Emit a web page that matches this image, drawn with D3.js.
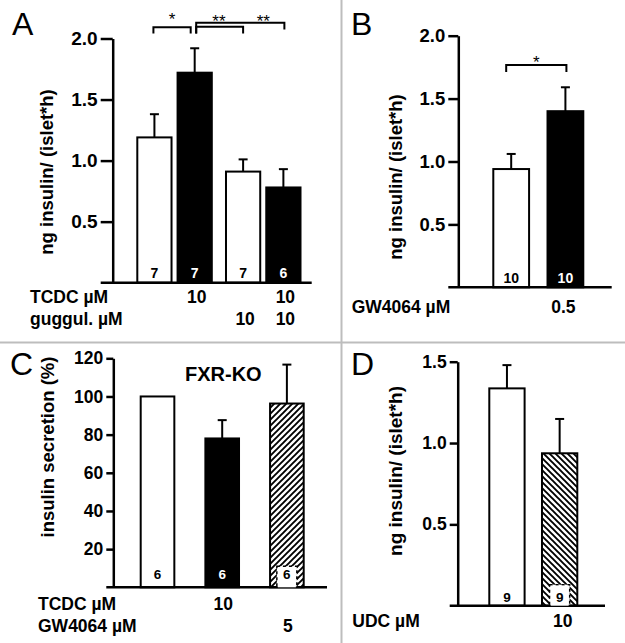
<!DOCTYPE html>
<html>
<head>
<meta charset="utf-8">
<script src="https://cdn.jsdelivr.net/npm/d3@7"></script>
<style>
  html, body { margin: 0; padding: 0; background: #fff; }
  svg { display: block; }
  text { font-family: "Liberation Sans", Arial, Helvetica, sans-serif; }
</style>
</head>
<body>
<script>
// ---------------- DATA ----------------
// Panel A
const aCategories = ["Control", "TCDC", "guggul.", "TCDC + guggul."];
const aMeans = [1.19, 1.72, 0.91, 0.78];
const aSEM = [0.19, 0.20, 0.10, 0.15];
const aN = [7, 7, 7, 6];
const aTCDC = ["", "10", "", "10"];
const aGuggul = ["", "", "10", "10"];
const aTicks = [0.5, 1.0, 1.5, 2.0];
const aSig = [[0, 1, "*"], [1, 2, "**"], [1, 3, "**"]];

// Panel B
const bCategories = ["Control", "GW4064"];
const bMeans = [0.94, 1.40];
const bSEM = [0.12, 0.19];
const bN = [10, 10];
const bGW = ["", "0.5"];
const bTicks = [0.5, 1.0, 1.5, 2.0];
const bSig = [[0, 1, "*"]];

// Panel C (FXR-KO)
const cCategories = ["Control", "TCDC", "GW4064"];
const cMeans = [100, 78, 96.3];
const cSEM = [0, 9.6, 20.4];
const cN = [6, 6, 6];
const cTCDC = ["", "10", ""];
const cGW = ["", "", "5"];
const cTicks = [20, 40, 60, 80, 100, 120];

// Panel D
const dCategories = ["Control", "UDC"];
const dMeans = [1.336, 0.937];
const dSEM = [0.143, 0.211];
const dN = [9, 9];
const dUDC = ["", "10"];
const dTicks = [0.5, 1.0, 1.5];

// ---------------- DRAWING ----------------
const W = 625, H = 643;
const svg = d3.select("body").append("svg").attr("width", W).attr("height", H);

const defs = svg.append("defs");
function hatch(id, dir) {
  const p = defs.append("pattern").attr("id", id)
    .attr("patternUnits", "userSpaceOnUse").attr("width", 6).attr("height", 6);
  p.append("rect").attr("width", 6).attr("height", 6).attr("fill", "#fff");
  const d = dir === "up"
    ? "M-1,1 l2,-2 M0,6 l6,-6 M5,7 l2,-2"
    : "M-1,5 l2,2 M0,0 l6,6 M5,-1 l2,2";
  p.append("path").attr("d", d).attr("stroke", "#000").attr("stroke-width", 1.9);
}
hatch("hatchUp", "up");
hatch("hatchDown", "down");

const fills = { open: "#fff", solid: "#000", hatchUp: "url(#hatchUp)", hatchDown: "url(#hatchDown)" };

// separators
svg.append("line").attr("x1", 0).attr("x2", W).attr("y1", 342.5).attr("y2", 342.5)
  .attr("stroke", "#bdbdbd").attr("stroke-width", 2);
svg.append("line").attr("x1", 341.5).attr("x2", 341.5).attr("y1", 0).attr("y2", H)
  .attr("stroke", "#bdbdbd").attr("stroke-width", 2);

function drawPanel(p) {
  const g = svg.append("g");
  const y = d3.scaleLinear().domain(p.domain).range([p.y0, p.y1]);
  const pos = p.position();

  // axis
  const axis = d3.axisLeft(y).tickValues(p.ticks).tickSize(p.tickSize).tickSizeOuter(0)
    .tickPadding(3).tickFormat(p.format);
  const ax = g.append("g").attr("transform", `translate(${p.axisX},0)`).call(axis);
  ax.select(".domain").attr("stroke", "#000").attr("stroke-width", 2.5);
  ax.selectAll(".tick line").attr("stroke", "#000").attr("stroke-width", 2.5);
  ax.selectAll(".tick text").attr("font-family", '"Liberation Sans", Arial, sans-serif')
    .attr("font-weight", "bold").attr("font-size", p.tickFont).attr("fill", "#000");

  // bars
  g.selectAll("rect.bar").data(p.means).join("rect").attr("class", "bar")
    .attr("x", (d, i) => pos(i).x).attr("width", (d, i) => pos(i).w)
    .attr("y", d => y(d)).attr("height", d => y(0) - y(d))
    .attr("fill", (d, i) => fills[p.kinds[i]])
    .attr("stroke", "#000").attr("stroke-width", 2);

  // error bars
  p.means.forEach((m, i) => {
    if (!p.sem[i]) return;
    const cx = pos(i).x + pos(i).w / 2;
    g.append("line").attr("x1", cx).attr("x2", cx).attr("y1", y(m)).attr("y2", y(m + p.sem[i]))
      .attr("stroke", "#000").attr("stroke-width", 2);
    g.append("line").attr("x1", cx - 4.5).attr("x2", cx + 4.5)
      .attr("y1", y(m + p.sem[i])).attr("y2", y(m + p.sem[i]))
      .attr("stroke", "#000").attr("stroke-width", 2);
  });

  // x axis baseline
  g.append("line").attr("x1", p.axisX - p.tickSize).attr("x2", p.xEnd)
    .attr("y1", y(0)).attr("y2", y(0)).attr("stroke", "#000").attr("stroke-width", 2.5);

  // n labels
  p.n.forEach((n, i) => {
    const cx = pos(i).x + pos(i).w / 2;
    const kind = p.kinds[i];
    if (kind.startsWith("hatch")) {
      g.append("rect").attr("x", cx - 10).attr("y", y(0) - 21).attr("width", 20).attr("height", 20)
        .attr("fill", "#fff").attr("stroke", "#000").attr("stroke-width", 1.6)
        .attr("stroke-dasharray", "3,3");
      g.append("rect").attr("x", cx - 9).attr("y", y(0) - 20).attr("width", 18).attr("height", 20)
        .attr("fill", "#fff");
    }
    g.append("text").attr("x", cx).attr("y", y(0) - p.nOffset)
      .attr("text-anchor", "middle").attr("font-weight", "bold").attr("font-size", p.nFont)
      .attr("fill", kind === "solid" ? "#fff" : "#000").text(n);
  });

  // y title
  g.append("text").attr("transform", `translate(${p.titleX},${p.titleY}) rotate(-90)`)
    .attr("text-anchor", "middle").attr("dominant-baseline", "central")
    .attr("font-weight", "bold").attr("font-size", p.titleFont).text(p.title);

  // panel letter
  g.append("text").attr("x", p.letterX).attr("y", p.letterY).attr("font-size", 32).text(p.letter);

  // condition rows
  p.rows.forEach(r => {
    g.append("text").attr("x", p.rowX).attr("y", r.y).attr("font-weight", "bold")
      .attr("font-size", p.rowFont).text(r.label);
    r.values.forEach((v, i) => {
      if (!v) return;
      const cx = pos(i).x + pos(i).w / 2 + (p.rowShift || 0);
      g.append("text").attr("x", cx).attr("y", r.y).attr("text-anchor", "middle")
        .attr("font-weight", "bold").attr("font-size", p.rowFont).text(v);
    });
  });

  // significance brackets
  (p.sig || []).forEach((s, k) => {
    const b = p.brackets[k];
    const cx = i => pos(i).x + pos(i).w / 2;
    const x1 = cx(s[0]) + b.dx1;
    const x2 = cx(s[1]) + b.dx2;
    g.append("path").attr("d", `M${x1},${b.yb1} V${b.yt} H${x2} V${b.yb2}`)
      .attr("fill", "none").attr("stroke", "#000").attr("stroke-width", 2);
    const sx = b.starBetween ? (cx(b.starBetween[0]) + cx(b.starBetween[1])) / 2 : (x1 + x2) / 2;
    g.append("text").attr("x", sx).attr("y", b.starY)
      .attr("text-anchor", "middle").attr("font-size", 17).text(s[2]);
  });
  return g;
}

// Panel A
(function () {
  const groups = ["without guggul.", "with guggul."];
  const subs = ["vehicle", "TCDC"];
  const gx = d3.scaleBand().domain(groups).range([137.3, 300.5]).paddingInner(0.16);
  const sx = d3.scaleBand().domain(subs).range([0, gx.bandwidth()]).paddingInner(0.15);
  const position = () => i => ({
    x: gx(groups[aGuggul[i] ? 1 : 0]) + sx(subs[aTCDC[i] ? 1 : 0]),
    w: sx.bandwidth()
  });
  drawPanel({
    domain: [0, 2], y0: 282.7, y1: 38.5, ticks: aTicks, format: d3.format(".1f"),
    tickSize: 12, tickFont: 19, axisX: 112.7, xEnd: 311.7,
    means: aMeans, sem: aSEM, n: aN, kinds: ["open", "solid", "open", "solid"],
    nOffset: 5, nFont: 14,
    position, title: "ng insulin/ (islet*h)", titleX: 46.7, titleY: 172, titleFont: 18.5,
    letter: "A", letterX: 12, letterY: 35,
    rowX: 30, rowFont: 17.5, rowShift: 2,
    rows: [{ label: "TCDC µM", y: 303 }, { label: "guggul. µM", y: 325 }].map((r, k) => ({ ...r, values: [aTCDC, aGuggul][k] })),
    sig: aSig,
    brackets: [
      { dx1: -1, dx2: -4, yt: 27.3, yb1: 33.5, yb2: 33.5, starY: 25 },
      { dx1: 1.5, dx2: 0, yt: 26.7, yb1: 33.5, yb2: 33.5, starY: 27, starBetween: [1, 2] },
      { dx1: 1.5, dx2: 1, yt: 22.7, yb1: 33.5, yb2: 29.5, starY: 27, starBetween: [2, 3] }
    ]
  });
})();

// Panel B
(function () {
  const x = d3.scaleBand().domain(bCategories).range([493.3, 583.3]).paddingInner(0.34);
  const position = () => i => ({ x: x(bCategories[i]), w: x.bandwidth() });
  drawPanel({
    domain: [0, 2], y0: 287.3, y1: 35.7, ticks: bTicks, format: d3.format(".1f"),
    tickSize: 10, tickFont: 18.5, axisX: 458.3, xEnd: 611.7,
    means: bMeans, sem: bSEM, n: bN, kinds: ["open", "solid"],
    nOffset: 4, nFont: 14,
    position, title: "ng insulin/ (islet*h)", titleX: 395, titleY: 177, titleFont: 18.5,
    letter: "B", letterX: 351, letterY: 35,
    rowX: 351.7, rowFont: 17.5, rowShift: -2,
    rows: [{ label: "GW4064 µM", y: 313.3, values: bGW }],
    sig: bSig,
    brackets: [{ dx1: -5, dx2: 1, yt: 65, yb1: 72, yb2: 72, starY: 68 }]
  });
})();

// Panel C
(function () {
  const x = d3.scaleBand().domain(cCategories).range([140.7, 303.7]).paddingInner(0.48);
  const position = () => i => ({ x: x(cCategories[i]), w: x.bandwidth() });
  const g = drawPanel({
    domain: [0, 120], y0: 587.3, y1: 358.3, ticks: cTicks, format: d3.format("d"),
    tickSize: 7, tickFont: 17.5, axisX: 113.3, xEnd: 327,
    means: cMeans, sem: cSEM, n: cN, kinds: ["open", "solid", "hatchUp"],
    nOffset: 8, nFont: 13.5,
    position, title: "insulin secretion (%)", titleX: 47, titleY: 447, titleFont: 18.5,
    letter: "C", letterX: 10, letterY: 375,
    rowX: 38, rowFont: 17.5, rowShift: 1,
    rows: [{ label: "TCDC µM", y: 610, values: cTCDC }, { label: "GW4064 µM", y: 631.7, values: cGW }]
  });
  g.append("text").attr("x", 185).attr("y", 381).attr("font-weight", "bold")
    .attr("font-size", 20).text("FXR-KO");
})();

// Panel D
(function () {
  const x = d3.scaleBand().domain(dCategories).range([489.3, 577.3]).paddingInner(0.33);
  const position = () => i => ({ x: x(dCategories[i]), w: x.bandwidth() });
  drawPanel({
    domain: [0, 1.5], y0: 605.7, y1: 361.7, ticks: dTicks, format: d3.format(".1f"),
    tickSize: 8, tickFont: 17.5, axisX: 457.7, xEnd: 605,
    means: dMeans, sem: dSEM, n: dN, kinds: ["open", "hatchDown"],
    nOffset: 4, nFont: 13.5,
    position, title: "ng insulin/ (islet*h)", titleX: 395, titleY: 471, titleFont: 19,
    letter: "D", letterX: 351, letterY: 375,
    rowX: 352.3, rowFont: 17.5, rowShift: 3,
    rows: [{ label: "UDC µM", y: 626.7, values: dUDC }]
  });
})();
</script>
</body>
</html>
